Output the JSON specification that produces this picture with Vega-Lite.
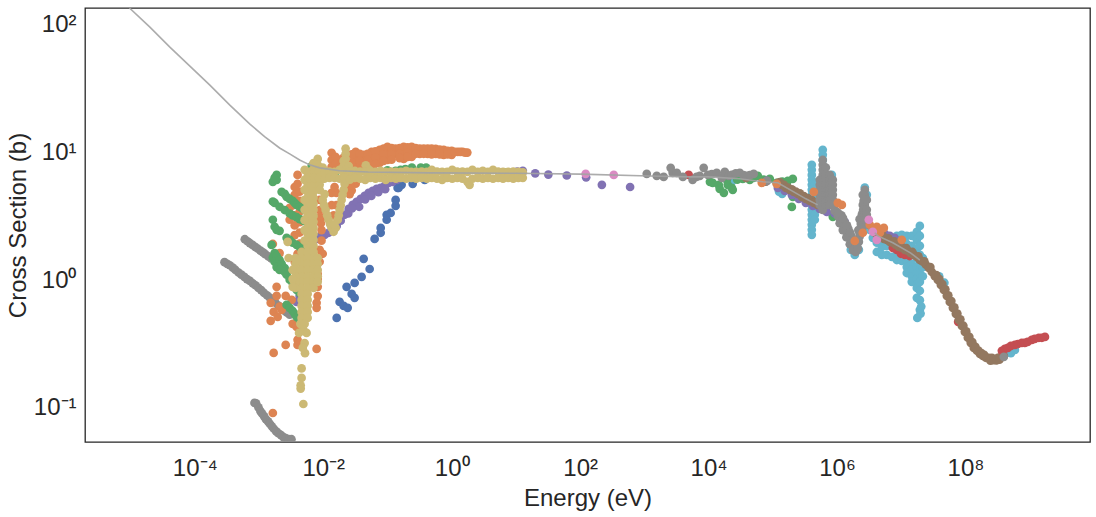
{"$schema":"https://vega.github.io/schema/vega-lite/v6.json","width":1005,"height":434,"autosize":"none","padding":{"left":85,"top":8,"right":6,"bottom":75},"background":"white","config":{"view":{"stroke":"#262626","strokeWidth":1.3},"font":"Liberation Sans","axis":{"grid":false,"ticks":false,"domain":false,"labelFont":"Liberation Sans","titleFont":"Liberation Sans","labelColor":"#262626","titleColor":"#262626","labelFontSize":24,"titleFontSize":24,"titleFontWeight":"normal"}},
"datasets":{"line":[{"seg":"a","E":9.6e-6,"xs":126},{"seg":"a","E":1.98e-5,"xs":89.7},{"seg":"a","E":4.05e-5,"xs":62.5},{"seg":"a","E":8.3e-5,"xs":44.4},{"seg":"a","E":1.7e-4,"xs":31.5},{"seg":"a","E":3.48e-4,"xs":22},{"seg":"a","E":7.14e-4,"xs":15.6},{"seg":"a","E":1.22e-3,"xs":12.4},{"seg":"a","E":2.09e-3,"xs":10.1},{"seg":"a","E":3e-3,"xs":9.08},{"seg":"a","E":4.29e-3,"xs":8.14},{"seg":"a","E":6.14e-3,"xs":7.45},{"seg":"a","E":8.79e-3,"xs":7.06},{"seg":"a","E":0.018,"xs":6.7},{"seg":"a","E":0.05,"xs":6.55},{"seg":"a","E":0.45,"xs":6.45},{"seg":"a","E":10,"xs":6.4},{"seg":"a","E":100,"xs":6.3},{"seg":"a","E":1200,"xs":6.1},{"seg":"a","E":5000,"xs":6},{"seg":"a","E":10000,"xs":6},{"seg":"a","E":30000,"xs":5.8},{"seg":"a","E":70000,"xs":5.5},{"seg":"a","E":120000,"xs":5.39},{"seg":"a","E":212000,"xs":4.58},{"seg":"a","E":327000,"xs":4.04},{"seg":"a","E":500000,"xs":3.62},{"seg":"b","E":3880000,"xs":2.19},{"seg":"b","E":4320000,"xs":2.07},{"seg":"b","E":7400000,"xs":1.83},{"seg":"b","E":14100000,"xs":1.52},{"seg":"b","E":19500000,"xs":1.34}],
"pts":[
{"lib":"H","E":6e-4,"xs":1.95},{"lib":"H","E":6.6e-4,"xs":1.88},{"lib":"H","E":7.2e-4,"xs":1.82},{"lib":"H","E":7.9e-4,"xs":1.76},{"lib":"H","E":8.7e-4,"xs":1.7},{"lib":"H","E":9.5e-4,"xs":1.65},{"lib":"H","E":1.05e-3,"xs":1.59},{"lib":"H","E":1.15e-3,"xs":1.54},{"lib":"H","E":1.25e-3,"xs":1.49},{"lib":"H","E":1.4e-3,"xs":1.43},{"lib":"H","E":1.55e-3,"xs":1.38},
{"lib":"H","E":2.9e-4,"xs":1.29},{"lib":"H","E":3.2e-4,"xs":1.25},{"lib":"H","E":3.5e-4,"xs":1.22},{"lib":"H","E":3.9e-4,"xs":1.17},{"lib":"H","E":4.3e-4,"xs":1.12},{"lib":"H","E":4.8e-4,"xs":1.07},{"lib":"H","E":5.3e-4,"xs":1.03},{"lib":"H","E":5.9e-4,"xs":0.99},{"lib":"H","E":6.5e-4,"xs":0.95},{"lib":"H","E":7.2e-4,"xs":0.92},{"lib":"H","E":8e-4,"xs":0.88},{"lib":"H","E":8.8e-4,"xs":0.85},{"lib":"H","E":9.8e-4,"xs":0.81},{"lib":"H","E":1.08e-3,"xs":0.78},{"lib":"H","E":1.2e-3,"xs":0.74},{"lib":"H","E":1.33e-3,"xs":0.71},{"lib":"H","E":1.47e-3,"xs":0.68},{"lib":"H","E":1.62e-3,"xs":0.65},{"lib":"H","E":1.8e-3,"xs":0.62},{"lib":"H","E":2e-3,"xs":0.59},{"lib":"H","E":2.2e-3,"xs":0.57},{"lib":"H","E":2.45e-3,"xs":0.54},{"lib":"H","E":2.7e-3,"xs":0.52},{"lib":"H","E":3e-3,"xs":0.5},
{"lib":"H","E":8.5e-4,"xs":0.102},{"lib":"H","E":9e-4,"xs":0.101},{"lib":"H","E":9.8e-4,"xs":0.094},{"lib":"H","E":1.05e-3,"xs":0.088},{"lib":"H","E":1.12e-3,"xs":0.084},{"lib":"H","E":1.2e-3,"xs":0.08},{"lib":"H","E":1.28e-3,"xs":0.076},{"lib":"H","E":1.38e-3,"xs":0.073},{"lib":"H","E":1.47e-3,"xs":0.07},{"lib":"H","E":1.58e-3,"xs":0.067},{"lib":"H","E":1.7e-3,"xs":0.064},{"lib":"H","E":1.85e-3,"xs":0.061},{"lib":"H","E":2e-3,"xs":0.059},{"lib":"H","E":2.2e-3,"xs":0.057},{"lib":"H","E":2.4e-3,"xs":0.055},{"lib":"H","E":2.6e-3,"xs":0.054},{"lib":"H","E":2.9e-3,"xs":0.053},{"lib":"H","E":3.2e-3,"xs":0.053},
{"lib":"J","E":405000,"xs":7.45},{"lib":"J","E":405000,"xs":6.81},{"lib":"J","E":405000,"xs":6.22},{"lib":"J","E":405000,"xs":5.69},{"lib":"J","E":405000,"xs":5.2},{"lib":"J","E":405000,"xs":4.75},{"lib":"J","E":405000,"xs":4.34},{"lib":"J","E":405000,"xs":3.96},{"lib":"J","E":405000,"xs":3.62},{"lib":"J","E":405000,"xs":3.31},{"lib":"J","E":405000,"xs":3.03},{"lib":"J","E":405000,"xs":2.77},{"lib":"J","E":405000,"xs":2.53},{"lib":"J","E":405000,"xs":2.31},{"lib":"J","E":405000,"xs":2.11},
{"lib":"J","E":451000,"xs":5.2},{"lib":"J","E":451000,"xs":4.75},{"lib":"J","E":451000,"xs":4.34},{"lib":"J","E":451000,"xs":3.96},{"lib":"J","E":451000,"xs":3.62},{"lib":"J","E":451000,"xs":3.31},{"lib":"J","E":451000,"xs":3.03},{"lib":"J","E":451000,"xs":2.77},
{"lib":"J","E":600000,"xs":9.77},{"lib":"J","E":600000,"xs":8.93},{"lib":"J","E":600000,"xs":8.14},{"lib":"J","E":830000,"xs":6.22},{"lib":"J","E":830000,"xs":5.69},{"lib":"J","E":140000,"xs":4.42},{"lib":"J","E":125000,"xs":4.6},{"lib":"J","E":23000,"xs":5.5},
{"lib":"J","E":1640000,"xs":1.61},{"lib":"J","E":1890000,"xs":1.47},{"lib":"J","E":2190000,"xs":1.61},{"lib":"J","E":2710000,"xs":4.95},{"lib":"J","E":2910000,"xs":4.34},{"lib":"J","E":3240000,"xs":2.31},{"lib":"J","E":3610000,"xs":2},
{"lib":"J","E":4170000,"xs":1.83},{"lib":"J","E":4170000,"xs":1.55},{"lib":"J","E":4990000,"xs":1.93},{"lib":"J","E":4990000,"xs":1.7},{"lib":"J","E":4990000,"xs":1.47},{"lib":"J","E":5960000,"xs":2},{"lib":"J","E":5960000,"xs":1.73},{"lib":"J","E":5960000,"xs":1.47},{"lib":"J","E":7140000,"xs":2},{"lib":"J","E":7140000,"xs":1.73},{"lib":"J","E":7140000,"xs":1.42},{"lib":"J","E":8540000,"xs":2.07},{"lib":"J","E":8540000,"xs":1.73},{"lib":"J","E":8540000,"xs":1.5},{"lib":"J","E":8540000,"xs":1.34},{"lib":"J","E":10200000,"xs":2.11},{"lib":"J","E":10200000,"xs":1.79},{"lib":"J","E":10200000,"xs":1.55},{"lib":"J","E":10200000,"xs":1.32},{"lib":"J","E":12200000,"xs":2.07},{"lib":"J","E":12200000,"xs":1.79},{"lib":"J","E":12200000,"xs":1.55},{"lib":"J","E":12200000,"xs":1.32},{"lib":"J","E":12200000,"xs":1.18},{"lib":"J","E":12200000,"xs":1.06},{"lib":"J","E":14600000,"xs":2.07},{"lib":"J","E":14600000,"xs":1.73},{"lib":"J","E":14600000,"xs":1.47},{"lib":"J","E":14600000,"xs":1.25},{"lib":"J","E":14600000,"xs":1.12},{"lib":"J","E":14600000,"xs":1},{"lib":"J","E":14600000,"xs":0.904},{"lib":"J","E":17500000,"xs":2.23},{"lib":"J","E":17500000,"xs":1.93},{"lib":"J","E":17500000,"xs":1.64},{"lib":"J","E":17500000,"xs":1.39},{"lib":"J","E":17500000,"xs":1.18},{"lib":"J","E":17500000,"xs":1.06},{"lib":"J","E":17500000,"xs":0.954},{"lib":"J","E":17500000,"xs":0.857},{"lib":"J","E":17500000,"xs":0.81},{"lib":"J","E":19500000,"xs":2.48},{"lib":"J","E":19500000,"xs":2.07},{"lib":"J","E":19500000,"xs":1.73},{"lib":"J","E":19500000,"xs":1.47},{"lib":"J","E":19500000,"xs":1.25},{"lib":"J","E":19500000,"xs":1.06},{"lib":"J","E":19500000,"xs":0.904},{"lib":"J","E":19500000,"xs":0.77},{"lib":"J","E":17500000,"xs":0.678},{"lib":"J","E":19500000,"xs":0.65},{"lib":"J","E":19500000,"xs":0.546},{"lib":"J","E":20500000,"xs":0.58},{"lib":"J","E":17800000,"xs":0.472},{"lib":"J","E":20000000,"xs":0.51},{"lib":"J","E":21700000,"xs":1.39},{"lib":"J","E":21700000,"xs":1.18},{"lib":"J","E":21700000,"xs":1},{"lib":"J","E":3.9e7,"xs":1},{"lib":"J","E":4.7e7,"xs":0.89},{"lib":"J","E":5.89e8,"xs":0.265},{"lib":"J","E":5.1e8,"xs":0.25},
{"lib":"A","E":0.0162,"xs":0.472},{"lib":"A","E":0.018,"xs":0.63},{"lib":"A","E":0.0208,"xs":0.586},{"lib":"A","E":0.024,"xs":0.566},{"lib":"A","E":0.0231,"xs":0.826},{"lib":"A","E":0.0277,"xs":0.728},{"lib":"A","E":0.0308,"xs":0.678},{"lib":"A","E":0.0308,"xs":0.887},{"lib":"A","E":0.0396,"xs":0.99},{"lib":"A","E":0.0426,"xs":1.37},{"lib":"A","E":0.0528,"xs":1.14},{"lib":"A","E":0.0631,"xs":1.96},{"lib":"A","E":0.0784,"xs":2.19},{"lib":"A","E":0.0784,"xs":2.39},{"lib":"A","E":0.0972,"xs":2.77},{"lib":"A","E":0.0972,"xs":3.03},{"lib":"A","E":0.112,"xs":3.13},{"lib":"A","E":0.134,"xs":3.56},{"lib":"A","E":0.134,"xs":3.96},{"lib":"A","E":0.144,"xs":4.92},{"lib":"A","E":0.149,"xs":4.92},{"lib":"A","E":0.166,"xs":5.2},{"lib":"A","E":0.247,"xs":5.29},{"lib":"A","E":0.247,"xs":5.69},{"lib":"A","E":0.38,"xs":5.69},
{"lib":"C","E":1.88e-3,"xs":6.22},{"lib":"C","E":1.64e-3,"xs":5.49},{"lib":"C","E":1.88e-3,"xs":5.69},{"lib":"C","E":1.75e-3,"xs":5.9},
{"lib":"C","E":6.6e-3,"xs":7.3},{"lib":"C","E":0.0135,"xs":6.9},{"lib":"C","E":0.0156,"xs":6.6},{"lib":"C","E":0.05,"xs":6.7},{"lib":"C","E":0.1,"xs":6.75},{"lib":"C","E":0.134,"xs":6.7},{"lib":"C","E":0.16,"xs":6.8},{"lib":"C","E":0.19,"xs":6.9},{"lib":"C","E":0.24,"xs":7.1},{"lib":"C","E":0.33,"xs":7.1},{"lib":"C","E":0.4,"xs":7.1},{"lib":"C","E":7.3,"xs":6.5},{"lib":"C","E":10,"xs":6.5},
{"lib":"C","E":10500,"xs":5.49},{"lib":"C","E":11600,"xs":5.39},{"lib":"C","E":14400,"xs":5.2},{"lib":"C","E":14900,"xs":4.84},{"lib":"C","E":17300,"xs":4.5},{"lib":"C","E":19200,"xs":5.69},{"lib":"C","E":19900,"xs":5.2},{"lib":"C","E":23000,"xs":4.92},{"lib":"C","E":23800,"xs":4.75},{"lib":"C","E":28000,"xs":5.7},{"lib":"C","E":34100,"xs":5.78},{"lib":"C","E":43800,"xs":5.69},{"lib":"C","E":50000,"xs":5.9},{"lib":"C","E":58400,"xs":6.11},{"lib":"C","E":72000,"xs":5.7},{"lib":"C","E":89800,"xs":5.78},{"lib":"C","E":115000,"xs":5.39},{"lib":"C","E":140000,"xs":5.5},{"lib":"C","E":171000,"xs":5.58},{"lib":"C","E":205000,"xs":5.78},{"lib":"C","E":165000,"xs":5.2},{"lib":"C","E":205000,"xs":4.19},{"lib":"C","E":198000,"xs":3.49},{"lib":"C","E":860000,"xs":2.92},
{"lib":"E","E":3.85e-3,"xs":0.63},{"lib":"E","E":4.29e-3,"xs":0.7},{"lib":"E","E":6.84e-3,"xs":1.39},{"lib":"E","E":7.35e-3,"xs":1.93},{"lib":"E","E":7.89e-3,"xs":2},{"lib":"E","E":9.1e-3,"xs":2.07},{"lib":"E","E":0.0105,"xs":2.11},{"lib":"E","E":0.0121,"xs":2.19},{"lib":"E","E":0.014,"xs":2.31},{"lib":"E","E":0.0162,"xs":2.48},{"lib":"E","E":0.0187,"xs":2.72},{"lib":"E","E":0.0215,"xs":3.03},{"lib":"E","E":0.0249,"xs":3.37},{"lib":"E","E":0.0287,"xs":3.62},{"lib":"E","E":0.0331,"xs":3.83},{"lib":"E","E":0.0383,"xs":4.04},{"lib":"E","E":0.0442,"xs":4.26},{"lib":"E","E":0.0509,"xs":4.5},{"lib":"E","E":0.0589,"xs":4.66},{"lib":"E","E":0.0679,"xs":4.84},{"lib":"E","E":0.0784,"xs":4.92},{"lib":"E","E":0.0904,"xs":5.1},{"lib":"E","E":0.104,"xs":5.39},{"lib":"E","E":0.12,"xs":5.49},{"lib":"E","E":0.14,"xs":5.69},{"lib":"E","E":0.0362,"xs":3.5},{"lib":"E","E":0.0245,"xs":3.1},{"lib":"E","E":0.028,"xs":3.4},{"lib":"E","E":0.045,"xs":4},{"lib":"E","E":0.056,"xs":4.25},{"lib":"E","E":0.072,"xs":4.55},{"lib":"E","E":0.092,"xs":4.8},
{"lib":"E","E":10.5,"xs":6.6},{"lib":"E","E":12.8,"xs":6.7},{"lib":"E","E":20,"xs":6.4},{"lib":"E","E":32,"xs":6.25},{"lib":"E","E":62,"xs":6.15},{"lib":"E","E":124,"xs":5.95},{"lib":"E","E":218,"xs":5.2},{"lib":"E","E":600,"xs":5},
{"lib":"E","E":80700,"xs":5.58},{"lib":"E","E":120000,"xs":4.92},{"lib":"E","E":154000,"xs":4.66},{"lib":"E","E":198000,"xs":4.34},{"lib":"E","E":254000,"xs":4.04},{"lib":"E","E":327000,"xs":3.76},{"lib":"E","E":420000,"xs":3.56},{"lib":"E","E":540000,"xs":3.37},{"lib":"E","E":693000,"xs":3.19},{"lib":"E","E":600000,"xs":5.49},{"lib":"E","E":600000,"xs":5.9},{"lib":"E","E":920000,"xs":3.1},{"lib":"E","E":1100000,"xs":2.97},{"lib":"E","E":1320000,"xs":2.67},{"lib":"E","E":5560000,"xs":2.15},{"lib":"E","E":6640000,"xs":2.07},{"lib":"E","E":7900000,"xs":2},{"lib":"E","E":9800000,"xs":1.89},
{"lib":"D","E":7400000,"xs":1.67},{"lib":"D","E":8540000,"xs":1.61},{"lib":"D","E":9900000,"xs":1.5},{"lib":"D","E":11400000,"xs":1.47},{"lib":"D","E":13500000,"xs":1.44},{"lib":"D","E":77000000,"xs":0.44},{"lib":"D","E":4900,"xs":6.22},
{"lib":"B","E":0.0135,"xs":9.26},{"lib":"B","E":0.0135,"xs":8.14},{"lib":"B","E":0.0135,"xs":7.2},{"lib":"B","E":0.018,"xs":8.14},{"lib":"B","E":0.018,"xs":7.2},{"lib":"B","E":0.024,"xs":8.93},{"lib":"B","E":0.024,"xs":7.87},{"lib":"B","E":0.032,"xs":9.42},{"lib":"B","E":0.032,"xs":8.14},{"lib":"B","E":0.032,"xs":7.06},{"lib":"B","E":0.032,"xs":6.11},{"lib":"B","E":0.032,"xs":5.3},{"lib":"B","E":0.0426,"xs":8.93},{"lib":"B","E":0.0426,"xs":7.87},{"lib":"B","E":0.0426,"xs":6.81},{"lib":"B","E":0.0567,"xs":9.42},{"lib":"B","E":0.0567,"xs":8.45},{"lib":"B","E":0.0567,"xs":7.45},{"lib":"B","E":0.0756,"xs":9.77},{"lib":"B","E":0.0756,"xs":8.75},{"lib":"B","E":0.0756,"xs":7.73},{"lib":"B","E":0.1,"xs":10.3},{"lib":"B","E":0.1,"xs":9.08},{"lib":"B","E":0.1,"xs":8.14},{"lib":"B","E":0.134,"xs":10},{"lib":"B","E":0.134,"xs":9.08},{"lib":"B","E":0.179,"xs":10.3},{"lib":"B","E":0.179,"xs":9.26},{"lib":"B","E":0.179,"xs":8.3},{"lib":"B","E":0.238,"xs":10.3},{"lib":"B","E":0.238,"xs":9.26},{"lib":"B","E":0.238,"xs":8.6},{"lib":"B","E":0.318,"xs":10},{"lib":"B","E":0.318,"xs":9.08},{"lib":"B","E":0.423,"xs":10},{"lib":"B","E":0.423,"xs":9.08},{"lib":"B","E":0.563,"xs":9.95},{"lib":"B","E":0.563,"xs":9.08},{"lib":"B","E":0.75,"xs":9.77},{"lib":"B","E":0.75,"xs":8.93},{"lib":"B","E":1,"xs":9.59},{"lib":"B","E":1,"xs":8.93},{"lib":"B","E":1.24,"xs":9.42},{"lib":"B","E":1.48,"xs":9.42},{"lib":"B","E":1.75,"xs":9.3},{"lib":"B","E":0.0258,"xs":5.3},{"lib":"B","E":0.0277,"xs":4.7},{"lib":"B","E":0.0088,"xs":3.96},{"lib":"B","E":0.0094,"xs":2.87},{"lib":"B","E":0.0105,"xs":3.3},
{"lib":"B","E":0.0155,"xs":8.6},{"lib":"B","E":0.0155,"xs":7.6},{"lib":"B","E":0.0208,"xs":8.5},{"lib":"B","E":0.0208,"xs":7.5},{"lib":"B","E":0.0277,"xs":9},{"lib":"B","E":0.0277,"xs":7.8},{"lib":"B","E":0.037,"xs":9.1},{"lib":"B","E":0.037,"xs":8},{"lib":"B","E":0.037,"xs":7},{"lib":"B","E":0.049,"xs":9.1},{"lib":"B","E":0.049,"xs":8.1},{"lib":"B","E":0.049,"xs":7.1},{"lib":"B","E":0.065,"xs":9.5},{"lib":"B","E":0.065,"xs":8.5},{"lib":"B","E":0.065,"xs":7.6},{"lib":"B","E":0.087,"xs":10},{"lib":"B","E":0.087,"xs":9},{"lib":"B","E":0.087,"xs":8},{"lib":"B","E":0.116,"xs":10.1},{"lib":"B","E":0.116,"xs":9},{"lib":"B","E":0.116,"xs":8.2},{"lib":"B","E":0.155,"xs":10.1},{"lib":"B","E":0.155,"xs":9.1},{"lib":"B","E":0.155,"xs":8.4},{"lib":"B","E":0.206,"xs":10.2},{"lib":"B","E":0.206,"xs":9.2},{"lib":"B","E":0.206,"xs":8.6},{"lib":"B","E":0.275,"xs":10.1},{"lib":"B","E":0.275,"xs":9.1},{"lib":"B","E":0.367,"xs":10},{"lib":"B","E":0.367,"xs":9.1},{"lib":"B","E":0.487,"xs":10},{"lib":"B","E":0.487,"xs":9},{"lib":"B","E":0.65,"xs":9.8},{"lib":"B","E":0.65,"xs":9},{"lib":"B","E":0.866,"xs":9.6},{"lib":"B","E":0.866,"xs":9},{"lib":"B","E":1.12,"xs":9.4},{"lib":"B","E":1.36,"xs":9.4},{"lib":"B","E":1.62,"xs":9.3},
{"lib":"B","E":0.0135,"xs":4.5},{"lib":"B","E":0.0135,"xs":3.6},{"lib":"B","E":0.0145,"xs":3},{"lib":"B","E":0.016,"xs":4.5},{"lib":"B","E":0.016,"xs":3.6},{"lib":"B","E":0.015,"xs":5},{"lib":"B","E":0.0245,"xs":4.9},{"lib":"B","E":0.0258,"xs":4.4},{"lib":"B","E":0.0088,"xs":3.3},{"lib":"B","E":0.0088,"xs":2.9},{"lib":"B","E":0.0092,"xs":2.6},
{"lib":"B","E":3.98e-3,"xs":6.22},{"lib":"B","E":3.59e-3,"xs":5},{"lib":"B","E":3.98e-3,"xs":5.3},{"lib":"B","E":3e-3,"xs":3.43},{"lib":"B","E":3e-3,"xs":2.77},{"lib":"B","E":3.59e-3,"xs":4.34},{"lib":"B","E":3.59e-3,"xs":3.62},{"lib":"B","E":3.59e-3,"xs":3},{"lib":"B","E":3.59e-3,"xs":2.5},{"lib":"B","E":3.59e-3,"xs":2.1},{"lib":"B","E":4.29e-3,"xs":4.6},{"lib":"B","E":4.29e-3,"xs":3.9},{"lib":"B","E":4.29e-3,"xs":3.2},{"lib":"B","E":4.29e-3,"xs":2.65},{"lib":"B","E":4.29e-3,"xs":2.2},{"lib":"B","E":4.29e-3,"xs":1.8},{"lib":"B","E":3.98e-3,"xs":1.5},{"lib":"B","E":3.59e-3,"xs":1.3},{"lib":"B","E":3.85e-3,"xs":1.1},{"lib":"B","E":5.13e-3,"xs":1.55},{"lib":"B","E":5.13e-3,"xs":1.1},
{"lib":"B","E":8.79e-3,"xs":1.61},{"lib":"B","E":9.8e-3,"xs":1.5},{"lib":"B","E":8.79e-3,"xs":1.3},{"lib":"B","E":8.2e-3,"xs":1.04},{"lib":"B","E":8.2e-3,"xs":0.826},{"lib":"B","E":8.2e-3,"xs":0.95},{"lib":"B","E":7.89e-3,"xs":0.619},{"lib":"B","E":7.89e-3,"xs":0.566},{"lib":"B","E":8.2e-3,"xs":0.7},{"lib":"B","E":7.89e-3,"xs":0.27},{"lib":"B","E":9.4e-3,"xs":1.9},{"lib":"B","E":9.4e-3,"xs":2.3},
{"lib":"B","E":1.64e-3,"xs":1.79},{"lib":"B","E":2.09e-3,"xs":1.52},{"lib":"B","E":1.88e-3,"xs":0.826},{"lib":"B","E":1.88e-3,"xs":0.703},{"lib":"B","E":2.6e-3,"xs":0.703},{"lib":"B","E":1.52e-3,"xs":0.619},{"lib":"B","E":1.69e-3,"xs":0.526},{"lib":"B","E":2.25e-3,"xs":0.546},{"lib":"B","E":1.95e-3,"xs":0.48},{"lib":"B","E":2.1e-3,"xs":0.58},{"lib":"B","E":1.52e-3,"xs":0.448},{"lib":"B","E":3.22e-3,"xs":0.653},{"lib":"B","E":1.69e-3,"xs":0.251},{"lib":"B","E":2.6e-3,"xs":0.29},{"lib":"B","E":3.98e-3,"xs":0.318},{"lib":"B","E":3.98e-3,"xs":0.29},{"lib":"B","E":3.34e-3,"xs":0.424},{"lib":"B","E":3.85e-3,"xs":0.401},{"lib":"B","E":1.64e-3,"xs":0.085},
{"lib":"C","E":2.25e-3,"xs":4.58},{"lib":"C","E":2.51e-3,"xs":4.42},{"lib":"C","E":2.69e-3,"xs":4.19},{"lib":"C","E":3e-3,"xs":4.04},{"lib":"C","E":3.34e-3,"xs":3.9},{"lib":"C","E":3.59e-3,"xs":3.76},{"lib":"C","E":3.85e-3,"xs":3.62},{"lib":"C","E":4.29e-3,"xs":3.5},{"lib":"C","E":4.78e-3,"xs":3.4},{"lib":"C","E":5.13e-3,"xs":3.3},
{"lib":"C","E":1.64e-3,"xs":3.85},{"lib":"C","E":1.75e-3,"xs":3.75},{"lib":"C","E":2.09e-3,"xs":3.5},{"lib":"C","E":2.51e-3,"xs":3.3},{"lib":"C","E":3e-3,"xs":3.1},{"lib":"C","E":3.34e-3,"xs":3},{"lib":"C","E":3.85e-3,"xs":2.9},{"lib":"C","E":4.29e-3,"xs":2.8},{"lib":"C","E":4.78e-3,"xs":2.75},{"lib":"C","E":5.13e-3,"xs":2.7},
{"lib":"C","E":1.64e-3,"xs":2.77},{"lib":"C","E":1.75e-3,"xs":2.44},{"lib":"C","E":1.88e-3,"xs":2.31},{"lib":"C","E":2.09e-3,"xs":2.27},
{"lib":"C","E":2.69e-3,"xs":2},{"lib":"C","E":3e-3,"xs":1.93},{"lib":"C","E":3.34e-3,"xs":1.83},{"lib":"C","E":3.85e-3,"xs":1.76},{"lib":"C","E":4.29e-3,"xs":1.7},{"lib":"C","E":4.78e-3,"xs":1.64},
{"lib":"C","E":1.57e-3,"xs":1.76},{"lib":"C","E":1.75e-3,"xs":1.52},{"lib":"C","E":1.64e-3,"xs":1.4},{"lib":"C","E":1.88e-3,"xs":1.44},{"lib":"C","E":1.75e-3,"xs":1.3},{"lib":"C","E":2.09e-3,"xs":1.34},{"lib":"C","E":1.88e-3,"xs":1.18},{"lib":"C","E":2.25e-3,"xs":1.25},{"lib":"C","E":2.51e-3,"xs":1.16},{"lib":"C","E":2.09e-3,"xs":1.12},{"lib":"C","E":2.69e-3,"xs":1.03},{"lib":"C","E":2.51e-3,"xs":1.08},{"lib":"C","E":3e-3,"xs":0.94},{"lib":"C","E":3.34e-3,"xs":0.887},{"lib":"C","E":3.59e-3,"xs":0.825},{"lib":"C","E":3.85e-3,"xs":0.783},{"lib":"C","E":4.29e-3,"xs":0.74},
{"lib":"C","E":2.69e-3,"xs":0.597},{"lib":"C","E":3e-3,"xs":0.566},{"lib":"C","E":3.34e-3,"xs":0.535},{"lib":"C","E":3.59e-3,"xs":0.508},{"lib":"C","E":3.85e-3,"xs":0.48},{"lib":"C","E":4.29e-3,"xs":0.456},
{"lib":"F","E":120000,"xs":5.39},{"lib":"F","E":129000,"xs":5.45},{"lib":"F","E":138000,"xs":5.2},{"lib":"F","E":149000,"xs":5.2},{"lib":"F","E":160000,"xs":4.92},{"lib":"F","E":172000,"xs":4.95},{"lib":"F","E":184000,"xs":4.75},{"lib":"F","E":198000,"xs":4.8},{"lib":"F","E":212000,"xs":4.58},{"lib":"F","E":228000,"xs":4.6},{"lib":"F","E":245000,"xs":4.42},{"lib":"F","E":264000,"xs":4.45},{"lib":"F","E":283000,"xs":4.19},{"lib":"F","E":304000,"xs":4.25},{"lib":"F","E":327000,"xs":4.04},{"lib":"F","E":351000,"xs":4.1},{"lib":"F","E":377000,"xs":3.89},{"lib":"F","E":405000,"xs":3.95},{"lib":"F","E":435000,"xs":3.76},{"lib":"F","E":466000,"xs":3.8},{"lib":"F","E":500000,"xs":3.62},{"lib":"F","E":580000,"xs":3.69},{"lib":"F","E":670000,"xs":3.76},{"lib":"F","E":770000,"xs":3.62},{"lib":"F","E":890000,"xs":3.56},{"lib":"F","E":38500,"xs":5.9},{"lib":"F","E":78000,"xs":5.5},
{"lib":"F","E":3880000,"xs":2.19},{"lib":"F","E":4320000,"xs":2.07},{"lib":"F","E":4810000,"xs":2.03},{"lib":"F","E":5360000,"xs":1.96},{"lib":"F","E":5970000,"xs":1.93},{"lib":"F","E":6640000,"xs":1.86},{"lib":"F","E":7400000,"xs":1.83},{"lib":"F","E":8240000,"xs":1.76},{"lib":"F","E":9180000,"xs":1.7},{"lib":"F","E":10200000,"xs":1.67},{"lib":"F","E":11400000,"xs":1.61},{"lib":"F","E":12700000,"xs":1.58},{"lib":"F","E":14100000,"xs":1.52},{"lib":"F","E":15700000,"xs":1.47},{"lib":"F","E":17500000,"xs":1.42},{"lib":"F","E":19500000,"xs":1.34},{"lib":"F","E":21700000,"xs":1.3},{"lib":"F","E":24200000,"xs":1.23},{"lib":"F","E":26900000,"xs":1.16},{"lib":"F","E":30000000,"xs":1.08},{"lib":"F","E":33400000,"xs":1},{"lib":"F","E":37200000,"xs":0.937},{"lib":"F","E":41400000,"xs":0.857},{"lib":"F","E":46100000,"xs":0.783},{"lib":"F","E":51300000,"xs":0.703},{"lib":"F","E":57100000,"xs":0.63},{"lib":"F","E":63700000,"xs":0.566},{"lib":"F","E":70900000,"xs":0.508},{"lib":"F","E":78900000,"xs":0.456},{"lib":"F","E":87900000,"xs":0.409},{"lib":"F","E":97900000,"xs":0.367},{"lib":"F","E":109000000,"xs":0.33},{"lib":"F","E":121000000,"xs":0.301},{"lib":"F","E":135000000,"xs":0.275},{"lib":"F","E":151000000,"xs":0.261},{"lib":"F","E":168000000,"xs":0.247},{"lib":"F","E":187000000,"xs":0.238},{"lib":"F","E":208000000,"xs":0.23},{"lib":"F","E":231000000,"xs":0.23},{"lib":"F","E":258000000,"xs":0.23},{"lib":"F","E":287000000,"xs":0.225},{"lib":"F","E":320000000,"xs":0.23},{"lib":"F","E":356000000,"xs":0.234},{"lib":"F","E":396000000,"xs":0.238},
{"lib":"F","E":4100000,"xs":2.2},{"lib":"F","E":5100000,"xs":2.1},{"lib":"F","E":6300000,"xs":1.98},{"lib":"F","E":7800000,"xs":1.88},{"lib":"F","E":9700000,"xs":1.76},{"lib":"F","E":12000000,"xs":1.66},{"lib":"F","E":14900000,"xs":1.55},{"lib":"F","E":18500000,"xs":1.43},{"lib":"F","E":22900000,"xs":1.31},{"lib":"F","E":28400000,"xs":1.18},{"lib":"F","E":35200000,"xs":1.02},{"lib":"F","E":39200000,"xs":0.95},{"lib":"F","E":43700000,"xs":0.87},{"lib":"F","E":48600000,"xs":0.79},{"lib":"F","E":54000000,"xs":0.71},{"lib":"F","E":60300000,"xs":0.64},{"lib":"F","E":67200000,"xs":0.57},{"lib":"F","E":74800000,"xs":0.51},{"lib":"F","E":83300000,"xs":0.46},{"lib":"F","E":92800000,"xs":0.41},{"lib":"F","E":103000000,"xs":0.37},{"lib":"F","E":115000000,"xs":0.335},{"lib":"F","E":128000000,"xs":0.305},{"lib":"F","E":143000000,"xs":0.28},{"lib":"F","E":159000000,"xs":0.262},{"lib":"F","E":177000000,"xs":0.25},{"lib":"F","E":197000000,"xs":0.242},{"lib":"F","E":245000000,"xs":0.218},{"lib":"F","E":272000000,"xs":0.22},{"lib":"F","E":303000000,"xs":0.219},{"lib":"F","E":338000000,"xs":0.222},
{"lib":"D","E":3.69e8,"xs":0.261},{"lib":"D","E":4.11e8,"xs":0.27},{"lib":"D","E":4.57e8,"xs":0.275},{"lib":"D","E":5.1e8,"xs":0.285},{"lib":"D","E":5.89e8,"xs":0.29},{"lib":"D","E":6.55e8,"xs":0.295},{"lib":"D","E":7.57e8,"xs":0.301},{"lib":"D","E":8.41e8,"xs":0.301},{"lib":"D","E":9.3e8,"xs":0.306},{"lib":"D","E":1.08e9,"xs":0.318},{"lib":"D","E":1.2e9,"xs":0.323},{"lib":"D","E":1.39e9,"xs":0.33},{"lib":"D","E":1.55e9,"xs":0.33},{"lib":"D","E":1.73e9,"xs":0.335},
{"lib":"H","E":3.96e8,"xs":0.234},
{"lib":"H","E":1090,"xs":6.34},{"lib":"H","E":1560,"xs":6.11},{"lib":"H","E":2000,"xs":6},{"lib":"H","E":2570,"xs":7.06},{"lib":"H","E":2760,"xs":6.45},{"lib":"H","E":3200,"xs":6.45},{"lib":"H","E":3980,"xs":6},{"lib":"H","E":5640,"xs":5.69},{"lib":"H","E":6500,"xs":6},{"lib":"H","E":7300,"xs":6.11},{"lib":"H","E":8400,"xs":7.06},{"lib":"H","E":9750,"xs":6.22},{"lib":"H","E":11200,"xs":6.3},{"lib":"H","E":13400,"xs":6.45},{"lib":"H","E":16100,"xs":5.9},{"lib":"H","E":17900,"xs":6.57},{"lib":"H","E":20600,"xs":6.1},{"lib":"H","E":22900,"xs":6.22},{"lib":"H","E":26500,"xs":6.4},{"lib":"H","E":30600,"xs":6.45},{"lib":"H","E":35000,"xs":6.2},{"lib":"H","E":39400,"xs":6.11},{"lib":"H","E":44000,"xs":6.2},{"lib":"H","E":50400,"xs":6.34},{"lib":"H","E":80700,"xs":5.58},
{"lib":"H","E":540000,"xs":5.69},{"lib":"H","E":540000,"xs":5.2},{"lib":"H","E":540000,"xs":4.75},{"lib":"H","E":540000,"xs":4.34},{"lib":"H","E":540000,"xs":3.96},{"lib":"H","E":540000,"xs":3.62},
{"lib":"H","E":600000,"xs":8.14},{"lib":"H","E":600000,"xs":7.45},{"lib":"H","E":600000,"xs":6.81},{"lib":"H","E":600000,"xs":6.22},{"lib":"H","E":600000,"xs":5.69},{"lib":"H","E":600000,"xs":5.2},{"lib":"H","E":600000,"xs":4.75},{"lib":"H","E":600000,"xs":4.34},{"lib":"H","E":600000,"xs":3.96},{"lib":"H","E":600000,"xs":3.62},{"lib":"H","E":600000,"xs":3.31},
{"lib":"H","E":670000,"xs":7.1},{"lib":"H","E":670000,"xs":6.22},{"lib":"H","E":670000,"xs":5.69},{"lib":"H","E":670000,"xs":5.2},{"lib":"H","E":670000,"xs":4.75},{"lib":"H","E":670000,"xs":4.34},{"lib":"H","E":670000,"xs":3.96},{"lib":"H","E":670000,"xs":3.62},
{"lib":"H","E":720000,"xs":4.75},{"lib":"H","E":720000,"xs":4.34},{"lib":"H","E":720000,"xs":3.96},{"lib":"H","E":720000,"xs":3.62},
{"lib":"H","E":770000,"xs":6.22},{"lib":"H","E":770000,"xs":5.69},{"lib":"H","E":770000,"xs":5.2},{"lib":"H","E":770000,"xs":4.75},{"lib":"H","E":770000,"xs":4.34},{"lib":"H","E":770000,"xs":3.96},{"lib":"H","E":770000,"xs":3.62},
{"lib":"H","E":860000,"xs":5.69},{"lib":"H","E":860000,"xs":5.2},{"lib":"H","E":860000,"xs":4.75},{"lib":"H","E":860000,"xs":4.34},{"lib":"H","E":860000,"xs":3.96},{"lib":"H","E":860000,"xs":3.62},
{"lib":"H","E":920000,"xs":3.25},{"lib":"H","E":1030000,"xs":2.97},{"lib":"H","E":1100000,"xs":2.85},{"lib":"H","E":1150000,"xs":2.77},{"lib":"H","E":1230000,"xs":2.57},{"lib":"H","E":1320000,"xs":2.39},{"lib":"H","E":1400000,"xs":2.25},{"lib":"H","E":1470000,"xs":2.15},{"lib":"H","E":1550000,"xs":2.03},{"lib":"H","E":1640000,"xs":1.93},{"lib":"H","E":1760000,"xs":1.73},{"lib":"H","E":1890000,"xs":1.58},{"lib":"H","E":2030000,"xs":1.61},{"lib":"H","E":2190000,"xs":1.86},{"lib":"H","E":2270000,"xs":2.15},{"lib":"H","E":2350000,"xs":2.57},{"lib":"H","E":2440000,"xs":3.05},{"lib":"H","E":2520000,"xs":3.62},
{"lib":"H","E":1000000,"xs":3.2},{"lib":"H","E":1170000,"xs":3},{"lib":"H","E":1320000,"xs":2.65},{"lib":"H","E":1500000,"xs":2.35},{"lib":"H","E":1680000,"xs":2.05},{"lib":"H","E":1850000,"xs":1.75},{"lib":"H","E":2080000,"xs":1.85},{"lib":"H","E":2150000,"xs":2.3},{"lib":"H","E":2250000,"xs":2.8},{"lib":"H","E":1100000,"xs":2.6},{"lib":"H","E":1230000,"xs":2.3},{"lib":"H","E":1400000,"xs":2.02},{"lib":"H","E":1580000,"xs":1.78},
{"lib":"H","E":1060000,"xs":3.1},{"lib":"H","E":1240000,"xs":2.85},{"lib":"H","E":1430000,"xs":2.5},{"lib":"H","E":1600000,"xs":2.2},{"lib":"H","E":1780000,"xs":1.9},{"lib":"H","E":1950000,"xs":1.72},{"lib":"H","E":1780000,"xs":1.6},{"lib":"H","E":1950000,"xs":1.55},{"lib":"H","E":2120000,"xs":1.65},{"lib":"H","E":2250000,"xs":2.05},{"lib":"H","E":2360000,"xs":2.2},{"lib":"H","E":2400000,"xs":2.75},{"lib":"H","E":2480000,"xs":2.4},{"lib":"H","E":2550000,"xs":3.3},{"lib":"H","E":2600000,"xs":3.9},{"lib":"H","E":2620000,"xs":2.9},
{"lib":"H","E":2710000,"xs":4.75},{"lib":"H","E":2710000,"xs":4.34},{"lib":"H","E":2710000,"xs":3.96},{"lib":"H","E":2710000,"xs":3.62},{"lib":"H","E":2710000,"xs":3.31},{"lib":"H","E":2710000,"xs":3.03},{"lib":"H","E":2710000,"xs":2.77},{"lib":"H","E":2520000,"xs":4.34},{"lib":"H","E":2910000,"xs":3.96},{"lib":"H","E":2910000,"xs":3.31},{"lib":"H","E":2910000,"xs":3.03},{"lib":"H","E":3130000,"xs":2.52},
{"lib":"I","E":4.6e-3,"xs":1.55},{"lib":"I","E":4.6e-3,"xs":1.39},{"lib":"I","E":4.6e-3,"xs":1.25},{"lib":"I","E":4.6e-3,"xs":1.12},{"lib":"I","E":4.6e-3,"xs":1},{"lib":"I","E":4.6e-3,"xs":0.904},{"lib":"I","E":4.6e-3,"xs":0.81},{"lib":"I","E":4.6e-3,"xs":0.728},{"lib":"I","E":4.6e-3,"xs":0.653},{"lib":"I","E":4.6e-3,"xs":0.586},{"lib":"I","E":4.6e-3,"xs":0.526},{"lib":"I","E":4.6e-3,"xs":0.472},
{"lib":"I","E":5.71e-3,"xs":5.69},{"lib":"I","E":5.71e-3,"xs":5.1},{"lib":"I","E":5.71e-3,"xs":4.58},{"lib":"I","E":5.71e-3,"xs":4.11},{"lib":"I","E":5.71e-3,"xs":3.69},{"lib":"I","E":5.71e-3,"xs":3.31},{"lib":"I","E":5.71e-3,"xs":2.97},{"lib":"I","E":5.71e-3,"xs":2.67},{"lib":"I","E":5.71e-3,"xs":2.39},{"lib":"I","E":5.71e-3,"xs":2.15},{"lib":"I","E":5.71e-3,"xs":1.93},{"lib":"I","E":5.71e-3,"xs":1.73},{"lib":"I","E":5.71e-3,"xs":1.55},{"lib":"I","E":5.71e-3,"xs":1.39},{"lib":"I","E":5.71e-3,"xs":1.25},{"lib":"I","E":5.71e-3,"xs":1.12},{"lib":"I","E":5.71e-3,"xs":1},{"lib":"I","E":5.71e-3,"xs":0.904},{"lib":"I","E":5.71e-3,"xs":0.81},{"lib":"I","E":5.71e-3,"xs":0.728},{"lib":"I","E":5.71e-3,"xs":0.653},{"lib":"I","E":5.71e-3,"xs":0.586},{"lib":"I","E":5.71e-3,"xs":0.526},{"lib":"I","E":5.71e-3,"xs":0.472},
{"lib":"I","E":7.05e-3,"xs":5.69},{"lib":"I","E":7.05e-3,"xs":5.1},{"lib":"I","E":7.05e-3,"xs":4.58},{"lib":"I","E":7.05e-3,"xs":4.11},{"lib":"I","E":7.05e-3,"xs":3.69},{"lib":"I","E":7.05e-3,"xs":3.31},{"lib":"I","E":7.05e-3,"xs":2.97},{"lib":"I","E":7.05e-3,"xs":2.67},{"lib":"I","E":7.05e-3,"xs":2.39},{"lib":"I","E":7.05e-3,"xs":2.15},{"lib":"I","E":7.05e-3,"xs":1.93},{"lib":"I","E":7.05e-3,"xs":1.73},{"lib":"I","E":7.05e-3,"xs":1.55},{"lib":"I","E":7.05e-3,"xs":1.39},{"lib":"I","E":7.05e-3,"xs":1.25},{"lib":"I","E":7.05e-3,"xs":1.12},{"lib":"I","E":7.05e-3,"xs":1},{"lib":"I","E":7.05e-3,"xs":0.904},{"lib":"I","E":7.05e-3,"xs":0.81},
{"lib":"I","E":3.7e-3,"xs":1.39},{"lib":"I","E":3.7e-3,"xs":1.25},{"lib":"I","E":3.7e-3,"xs":1.12},{"lib":"I","E":3.7e-3,"xs":1},{"lib":"I","E":3.7e-3,"xs":0.904},{"lib":"I","E":3.7e-3,"xs":0.81},{"lib":"I","E":8.2e-3,"xs":1.39},{"lib":"I","E":8.2e-3,"xs":1.25},{"lib":"I","E":8.2e-3,"xs":1.12},{"lib":"I","E":8.2e-3,"xs":1},{"lib":"I","E":8.2e-3,"xs":0.904},
{"lib":"I","E":5.13e-3,"xs":6.81},{"lib":"I","E":5.13e-3,"xs":5.69},{"lib":"I","E":5.13e-3,"xs":4.75},{"lib":"I","E":5.13e-3,"xs":3.96},{"lib":"I","E":5.13e-3,"xs":3.31},{"lib":"I","E":5.13e-3,"xs":2.75},{"lib":"I","E":5.13e-3,"xs":2.3},{"lib":"I","E":5.13e-3,"xs":1.9},{"lib":"I","E":4.4e-3,"xs":0.424},{"lib":"I","E":5.13e-3,"xs":0.424},{"lib":"I","E":4.9e-3,"xs":0.38},{"lib":"I","E":5.5e-3,"xs":0.36},{"lib":"I","E":4.2e-3,"xs":0.36},{"lib":"I","E":5.13e-3,"xs":0.3},{"lib":"I","E":4.8e-3,"xs":0.275},{"lib":"I","E":5.2e-3,"xs":0.25},
{"lib":"I","E":4.6e-3,"xs":0.19},{"lib":"I","E":4.6e-3,"xs":0.16},{"lib":"I","E":4.45e-3,"xs":0.14},{"lib":"I","E":4.45e-3,"xs":0.132},{"lib":"I","E":4.9e-3,"xs":0.1},
{"lib":"I","E":2.79e-3,"xs":1.86},{"lib":"I","E":2.89e-3,"xs":1.39},{"lib":"I","E":3.85e-3,"xs":1.34},{"lib":"I","E":3.34e-3,"xs":1.12},{"lib":"I","E":3.34e-3,"xs":0.95},{"lib":"I","E":3.34e-3,"xs":0.826},
{"lib":"I","E":8.2e-3,"xs":8.3},{"lib":"I","E":8.2e-3,"xs":7.45},{"lib":"I","E":8.2e-3,"xs":6.81},{"lib":"I","E":8.2e-3,"xs":6.22},{"lib":"I","E":8.2e-3,"xs":5.69},{"lib":"I","E":7.05e-3,"xs":7.7},{"lib":"I","E":7.05e-3,"xs":6.9},{"lib":"I","E":7.05e-3,"xs":6.22},{"lib":"I","E":9.8e-3,"xs":7.1},{"lib":"I","E":9.8e-3,"xs":6.4},{"lib":"I","E":9.8e-3,"xs":5.8},{"lib":"I","E":5.71e-3,"xs":6.5},{"lib":"I","E":5.71e-3,"xs":6},{"lib":"I","E":8.79e-3,"xs":5.2},
{"lib":"I","E":8.79e-3,"xs":4.75},{"lib":"I","E":9.8e-3,"xs":3.96},{"lib":"I","E":0.0109,"xs":3.31},{"lib":"I","E":0.0121,"xs":2.77},{"lib":"I","E":0.0135,"xs":2.39},{"lib":"I","E":0.0145,"xs":2.23},{"lib":"I","E":0.0156,"xs":2.39},{"lib":"I","E":0.0168,"xs":2.77},{"lib":"I","E":0.018,"xs":3.31},{"lib":"I","E":0.0193,"xs":3.96},{"lib":"I","E":0.0208,"xs":4.75},{"lib":"I","E":0.0223,"xs":6.22},{"lib":"I","E":0.0105,"xs":4.4},{"lib":"I","E":0.0115,"xs":3},{"lib":"I","E":0.0128,"xs":2.55},{"lib":"I","E":0.0148,"xs":2.55},{"lib":"I","E":0.0174,"xs":3},{"lib":"I","E":0.0187,"xs":3.6},{"lib":"I","E":0.02,"xs":4.35},{"lib":"I","E":0.0215,"xs":5.3},{"lib":"I","E":0.0103,"xs":3.6},
{"lib":"I","E":0.0223,"xs":10},{"lib":"I","E":0.0223,"xs":9.08},{"lib":"I","E":0.0223,"xs":8.3},{"lib":"I","E":0.0223,"xs":7.45},{"lib":"I","E":0.0223,"xs":6.81},{"lib":"I","E":0.0208,"xs":8},{"lib":"I","E":0.0208,"xs":7.3},{"lib":"I","E":0.0208,"xs":6.5},{"lib":"I","E":0.0249,"xs":7.3},{"lib":"I","E":0.0249,"xs":6.5},{"lib":"I","E":0.0249,"xs":5.9},{"lib":"I","E":0.046,"xs":7.4},{"lib":"I","E":0.05,"xs":6.9},
{"lib":"I","E":6e-3,"xs":6.57},{"lib":"I","E":7.2e-3,"xs":6.57},{"lib":"I","E":8.6e-3,"xs":6.6},{"lib":"I","E":0.0104,"xs":6.57},{"lib":"I","E":0.0125,"xs":6.6},{"lib":"I","E":0.015,"xs":6.57},{"lib":"I","E":0.018,"xs":6.81},{"lib":"I","E":0.026,"xs":6.6},{"lib":"I","E":0.031,"xs":6.7},{"lib":"I","E":0.0375,"xs":6.6},{"lib":"I","E":0.045,"xs":6.57},{"lib":"I","E":0.054,"xs":6.7},{"lib":"I","E":0.065,"xs":6.57},{"lib":"I","E":0.078,"xs":6.7},{"lib":"I","E":0.094,"xs":6.57},{"lib":"I","E":0.113,"xs":6.6},{"lib":"I","E":0.135,"xs":6.57},{"lib":"I","E":0.162,"xs":6.57},{"lib":"I","E":0.195,"xs":6.7},{"lib":"I","E":0.234,"xs":6.57},{"lib":"I","E":0.28,"xs":6.57},{"lib":"I","E":0.34,"xs":6.6},{"lib":"I","E":0.41,"xs":6.57},{"lib":"I","E":0.49,"xs":6.81},{"lib":"I","E":0.59,"xs":6.6},{"lib":"I","E":0.71,"xs":6.57},{"lib":"I","E":0.85,"xs":6.57},{"lib":"I","E":1.02,"xs":6.81},{"lib":"I","E":1.22,"xs":6.6},{"lib":"I","E":1.47,"xs":6.6},{"lib":"I","E":1.76,"xs":6.57},{"lib":"I","E":2.1,"xs":6.81},{"lib":"I","E":2.55,"xs":6.57},{"lib":"I","E":3.05,"xs":6.7},{"lib":"I","E":3.67,"xs":6.57},{"lib":"I","E":4.4,"xs":6.81},{"lib":"I","E":5.3,"xs":6.6},{"lib":"I","E":6.3,"xs":6.57},{"lib":"I","E":7.6,"xs":6.57},{"lib":"I","E":9.1,"xs":6.6},{"lib":"I","E":10.9,"xs":6.57},{"lib":"I","E":12.8,"xs":6.5},
{"lib":"I","E":6e-3,"xs":5.9},{"lib":"I","E":7.2e-3,"xs":5.9},{"lib":"I","E":8.6e-3,"xs":5.9},{"lib":"I","E":0.0104,"xs":5.8},{"lib":"I","E":0.0125,"xs":5.9},{"lib":"I","E":0.015,"xs":5.9},{"lib":"I","E":0.018,"xs":5.8},{"lib":"I","E":0.0216,"xs":5.9},{"lib":"I","E":0.026,"xs":5.7},{"lib":"I","E":0.031,"xs":5.9},{"lib":"I","E":0.0375,"xs":5.8},{"lib":"I","E":0.045,"xs":5.69},{"lib":"I","E":0.054,"xs":5.9},{"lib":"I","E":0.065,"xs":5.8},{"lib":"I","E":0.078,"xs":5.9},{"lib":"I","E":0.094,"xs":5.69},{"lib":"I","E":0.113,"xs":5.9},{"lib":"I","E":0.135,"xs":5.8},{"lib":"I","E":0.162,"xs":5.9},{"lib":"I","E":0.195,"xs":5.8},{"lib":"I","E":0.234,"xs":5.9},{"lib":"I","E":0.28,"xs":5.8},{"lib":"I","E":0.34,"xs":5.9},{"lib":"I","E":0.41,"xs":5.8},{"lib":"I","E":0.49,"xs":5.9},{"lib":"I","E":0.59,"xs":5.8},{"lib":"I","E":0.71,"xs":5.69},{"lib":"I","E":0.85,"xs":5.9},{"lib":"I","E":1.02,"xs":5.8},{"lib":"I","E":1.22,"xs":5.9},{"lib":"I","E":1.47,"xs":5.8},{"lib":"I","E":1.76,"xs":5.49},{"lib":"I","E":1.9,"xs":5.2},{"lib":"I","E":2.1,"xs":5.8},{"lib":"I","E":2.55,"xs":5.9},{"lib":"I","E":3.05,"xs":5.8},{"lib":"I","E":3.67,"xs":5.9},{"lib":"I","E":4.4,"xs":5.8},{"lib":"I","E":5.3,"xs":5.9},{"lib":"I","E":6.3,"xs":5.8},{"lib":"I","E":7.6,"xs":5.9},{"lib":"I","E":9.1,"xs":5.8},{"lib":"I","E":10.9,"xs":5.9},{"lib":"I","E":12.8,"xs":5.9},
{"lib":"B","E":435000,"xs":4.58},{"lib":"B","E":1030000,"xs":3.76},{"lib":"B","E":1190000,"xs":3.62},{"lib":"B","E":1890000,"xs":1.89},{"lib":"B","E":2520000,"xs":2.19},{"lib":"B","E":3240000,"xs":2.53},{"lib":"B","E":3610000,"xs":2.31},{"lib":"B","E":4170000,"xs":2.44},{"lib":"B","E":4650000,"xs":2.19},{"lib":"B","E":5360000,"xs":2.39},{"lib":"B","E":10200000,"xs":1.93},{"lib":"B","E":67400,"xs":5.39},{"lib":"B","E":115000,"xs":5.29},
{"lib":"G","E":122,"xs":6.34},{"lib":"G","E":334,"xs":6.22},{"lib":"G","E":3130000,"xs":2.77},{"lib":"G","E":3610000,"xs":2.23},{"lib":"G","E":4170000,"xs":1.93}
]},
"layer":[{"data":{"name":"pts"},"mark":{"type":"point","filled":true,"size":76,"opacity":1,"clip":true},"encoding":{"x":{"field":"E","type":"quantitative"},"y":{"field":"xs","type":"quantitative"},"color":{"field":"lib","type":"nominal","legend":null,"scale":{"domain":["A","B","C","D","E","F","G","H","I","J"],"range":["#4C72B0","#DD8452","#55A868","#C44E52","#8172B3","#937860","#DA8BC3","#8C8C8C","#CCB974","#64B5CD"]}}}},
{"data":{"name":"line"},"mark":{"type":"line","stroke":"#a3a3a3","strokeWidth":1.6,"opacity":0.9,"clip":true},"encoding":{"x":{"field":"E","type":"quantitative"},"y":{"field":"xs","type":"quantitative"},"detail":{"field":"seg","type":"nominal"}}}],
"encoding":{"x":{"field":"E","type":"quantitative","title":"Energy (eV)","scale":{"type":"log","domain":[1.95e-6,8.7e9],"nice":false},"axis":{"values":[0.0001,0.01,1,100,10000,1000000,100000000],"labelExpr":"'10'+['⁻⁴','⁻²','⁰','²','⁴','⁶','⁸'][(round(log(datum.value)/LN10)+4)/2]","labelPadding":14,"titlePadding":6,"labelAngle":0}},"y":{"field":"xs","type":"quantitative","title":"Cross Section (b)","scale":{"type":"log","domain":[0.0504,126],"nice":false},"axis":{"values":[0.1,1,10,100],"labelExpr":"'10'+['⁻¹','⁰','¹','²'][round(log(datum.value)/LN10)+1]","labelPadding":9,"labelOffset":4,"titlePadding":3}}}}
